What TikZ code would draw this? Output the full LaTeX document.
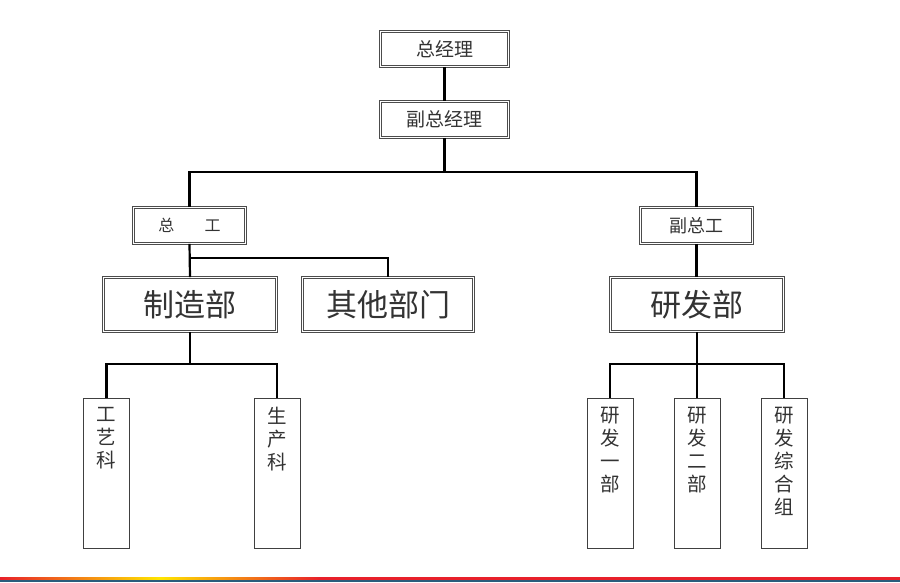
\documentclass[tikz,border=0pt]{standalone}
\usepackage{fontspec}
\newfontfamily\cjk{Noto Sans CJK SC}
\begin{document}
\begin{tikzpicture}[x=1pt,y=-1pt,
  dbox/.style={draw=black!70, double=white, double distance=1.3pt, line width=0.8pt,
    fill=white, inner sep=0pt, text=black!80, font=\cjk},
  tallbox/.style={draw=black!75, line width=1pt, fill=white, inner sep=0pt,
    anchor=north, minimum width=46pt, minimum height=150pt, text=black!80, font=\cjk\fontsize{19.5}{22.8}\selectfont},
  conn/.style={draw=black, line width=2.2pt}
]
\useasboundingbox (0,0) rectangle (900,582);
% boxes
\node[dbox, minimum width=128pt, minimum height=35pt, font=\cjk\fontsize{19}{22}\selectfont] (gm) at (444.5,49) {总经理};
\node[dbox, minimum width=128pt, minimum height=36pt, font=\cjk\fontsize{19}{22}\selectfont] (vgm) at (444.5,119.5) {副总经理};
\node[dbox, minimum width=112pt, minimum height=36pt, font=\cjk\fontsize{16}{20}\selectfont] (ce) at (189.5,225.5) {总\hspace{1.9em}工};
\node[dbox, minimum width=112pt, minimum height=36pt, font=\cjk\fontsize{18}{22}\selectfont] (vce) at (696.5,225.5) {副总工};
\node[dbox, minimum width=173pt, minimum height=54pt, font=\cjk\fontsize{31}{36}\selectfont] (zz) at (190,304.5) {制造部};
\node[dbox, minimum width=171pt, minimum height=54pt, font=\cjk\fontsize{31}{36}\selectfont] (qt) at (388,304.5) {其他部门};
\node[dbox, minimum width=173pt, minimum height=54pt, font=\cjk\fontsize{31}{36}\selectfont] (yf) at (697,304.5) {研发部};
% tall boxes
\node[tallbox] (gy) at (106.5,398) {\parbox[t][146pt][t]{24pt}{\centering\vspace*{7pt}工\\艺\\科}};
\node[tallbox] (sc) at (277,398) {\parbox[t][146pt][t]{24pt}{\centering\vspace*{7pt}生\\产\\科}};
\node[tallbox] (y1) at (610,398) {\parbox[t][146pt][t]{24pt}{\centering\vspace*{7pt}研\\发\\一\\部}};
\node[tallbox] (y2) at (697,398) {\parbox[t][146pt][t]{24pt}{\centering\vspace*{7pt}研\\发\\二\\部}};
\node[tallbox] (yz) at (784,398) {\parbox[t][146pt][t]{24pt}{\centering\vspace*{7pt}研\\发\\综\\合\\组}};
% bar coordinates
\coordinate (b1) at (444.5,172);
\coordinate (b2) at (190,258);
\coordinate (b3) at (190,364);
\coordinate (b4) at (697,364);
% connectors
\draw[conn] (gm.south) -- (vgm.north);
\draw[conn] (vgm.south) -- (b1);
\draw[conn] (ce.north) -- (ce.north |- b1) -- (vce.north |- b1) -- (vce.north);
\draw[conn] (vce.south) -- (yf.north -| vce.south);
\draw[conn] (ce.south) -- (zz.north);
\draw[conn] (b2) -- (qt.north |- b2) -- (qt.north);
\draw[conn] (zz.south) -- (b3);
\draw[conn] (gy.north) -- (gy.north |- b3) -- (sc.north |- b3) -- (sc.north);
\draw[conn] (yf.south) -- (b4);
\draw[conn] (y1.north) -- (y1.north |- b4) -- (yz.north |- b4) -- (yz.north);
\draw[conn] (b4) -- (y2.north);
% bottom band
\definecolor{bandred}{HTML}{E8202A}
\definecolor{bandblue}{HTML}{2A5C7C}
\fill[bandred] (320,577) rectangle (900,580);
\shade[left color=bandred, right color=bandred, middle color=yellow!80!orange] (0,577) rectangle (320,580);
\fill[bandblue] (0,580) rectangle (900,582);
\end{tikzpicture}
\end{document}
